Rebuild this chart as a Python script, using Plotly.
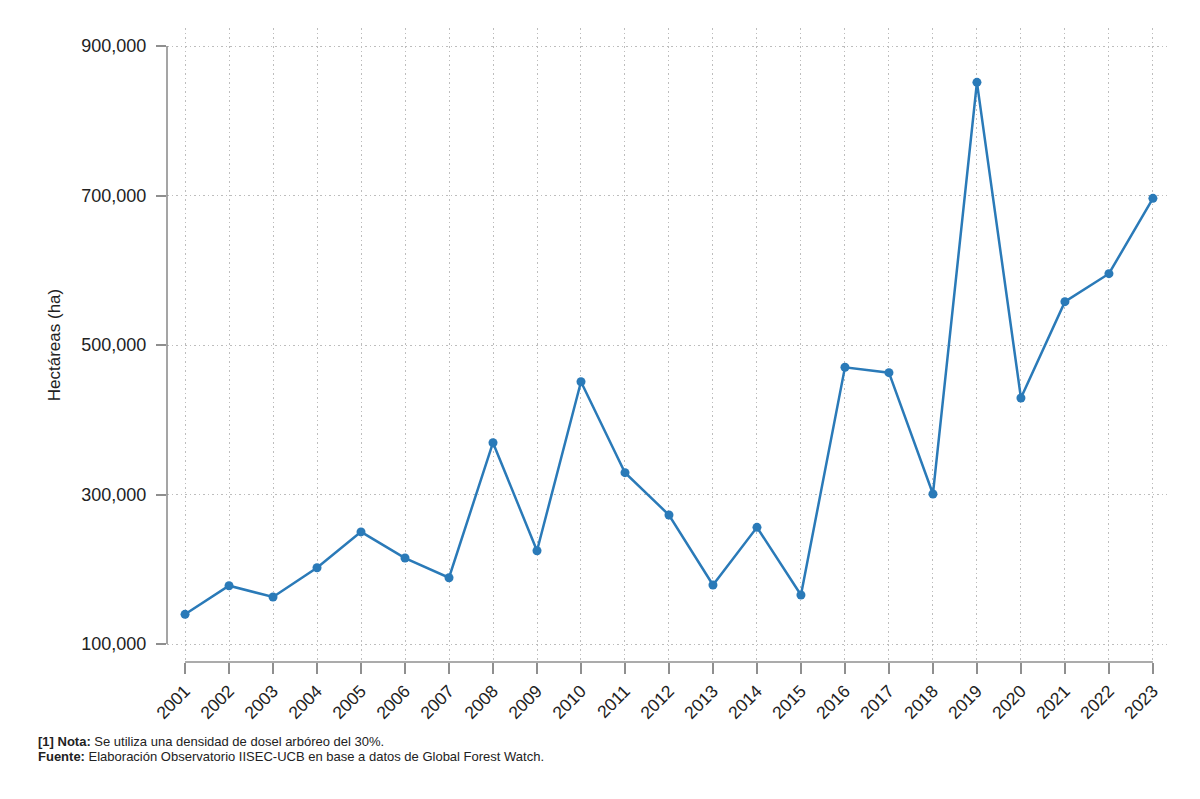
import plotly.graph_objects as go

years = list(range(2001, 2024))
hectareas = [139700, 178000, 162900, 202000, 250000, 215000, 188700, 369300,
             224800, 450900, 329200, 272600, 178900, 256100, 165500, 470200,
             463000, 300700, 851400, 429100, 558000, 595400, 696200]
y_ticks = [100000, 300000, 500000, 700000, 900000]
y_ticktext = ["100,000", "300,000", "500,000", "700,000", "900,000"]
x_ticktext = [str(y) for y in years]

line_color = "#2a7ab8"
axis_color = "#8f8f8f"
grid_color = "#bdbdbd"
text_color = "#222222"
font_family = "Liberation Sans, Arial, sans-serif"

fig = go.Figure()
fig.add_trace(go.Scatter(
    x=years, y=hectareas, mode="lines+markers",
    line=dict(color=line_color, width=2.5),
    marker=dict(color=line_color, size=9),
    showlegend=False, hoverinfo="skip",
))

fig.update_layout(
    width=1200, height=799,
    margin=dict(l=159, r=41, t=20, b=145),
    paper_bgcolor="white", plot_bgcolor="white",
    font=dict(family=font_family, color=text_color),
    xaxis=dict(
        range=[2000.59, 2023.32],
        tickvals=years, ticktext=x_ticktext,
        tickangle=-45,
        ticks="outside", ticklen=11, tickwidth=1.6, tickcolor=axis_color,
        tickfont=dict(size=17.5, color=text_color),
        showgrid=True, gridcolor=grid_color, griddash="1.5px,3px", gridwidth=1,
        showline=False, zeroline=False,
    ),
    yaxis=dict(
        range=[75920, 924080],
        tickvals=y_ticks, ticktext=y_ticktext,
        ticks="outside", ticklen=10, tickwidth=1.6, tickcolor=axis_color,
        ticklabelstandoff=6,
        tickfont=dict(size=18, color=text_color),
        showgrid=True, gridcolor=grid_color, griddash="1.5px,3px", gridwidth=1,
        showline=False, zeroline=False,
        title=dict(text="Hectáreas (ha)", font=dict(size=17, color=text_color), standoff=16),
    ),
)

# Stata-style axis lines spanning only the labelled range
fig.add_shape(type="line", xref="paper", yref="y", x0=0, x1=0,
              y0=y_ticks[0], y1=y_ticks[-1],
              line=dict(color=axis_color, width=1.6), layer="above")
fig.add_shape(type="line", xref="x", yref="paper", x0=years[0], x1=years[-1],
              y0=0, y1=0,
              line=dict(color=axis_color, width=1.6), layer="above")

notes = [
    "<b>[1] Nota:</b> Se utiliza una densidad de dosel arbóreo del 30%.",
    "<b>Fuente:</b> Elaboración Observatorio IISEC-UCB en base a datos de Global Forest Watch.",
]
for i, note in enumerate(notes):
    fig.add_annotation(
        xref="paper", yref="paper", x=-0.131, y=(654 - 733 - 15 * i) / 634,
        xanchor="left", yanchor="middle", align="left", showarrow=False,
        text=note,
        font=dict(size=13, color=text_color, family=font_family),
    )

fig.write_html("out.html")
